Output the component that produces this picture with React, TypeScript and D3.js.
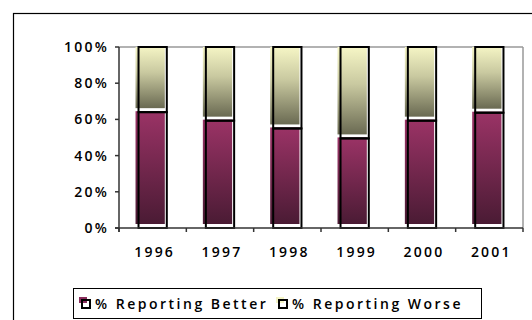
import React from 'react';
import * as d3 from 'd3';

const years = ['1996', '1997', '1998', '1999', '2000', '2001'];
const reportingBetter = [64, 59.3, 55, 49.5, 59.3, 63.7];
const reportingWorse = [36, 40.7, 45, 50.5, 40.7, 36.3];
const yTicks = [0, 20, 40, 60, 80, 100];
const seriesNames = ['% Reporting Better', '% Reporting Worse'];

const W = 532;
const H = 320;
const plot = { left: 119, right: 523, top: 47, bottom: 228 };
const FONT = "'Open Sans', 'DejaVu Sans', sans-serif";

// fill is drawn slightly up-left of its outline
const DX = -3;
const DY = -4;

export default function App() {
  const x = d3
    .scaleBand<string>()
    .domain(years)
    .range([plot.left, plot.right])
    .paddingInner(0.58)
    .paddingOuter(0.29);
  const y = d3.scaleLinear().domain([0, 100]).range([plot.bottom, plot.top]);
  const bw = x.bandwidth();

  const catEdges = d3.range(years.length + 1).map((i) => plot.left + (i * (plot.right - plot.left)) / years.length);

  return (
    <svg
      width={W}
      height={H}
      style={{ position: 'absolute', left: 0, top: 0, background: '#fff' }}
      fontFamily={FONT}
    >
      <defs>
        <linearGradient id="gBetter" x1="0" y1="0" x2="0" y2="1">
          <stop offset="0%" stopColor="#9b3366" />
          <stop offset="100%" stopColor="#4a1b34" />
        </linearGradient>
        <linearGradient id="gWorse" x1="0" y1="0" x2="0" y2="1">
          <stop offset="0%" stopColor="#fbfbca" />
          <stop offset="45%" stopColor="#c9c9a0" />
          <stop offset="100%" stopColor="#6a6a52" />
        </linearGradient>
        <clipPath id="plotClip">
          <rect x={plot.left - 10} y={plot.top} width={plot.right - plot.left + 10} height={plot.bottom - plot.top + 10} />
        </clipPath>
      </defs>

      {/* chart frame */}
      <rect x={13.5} y={13.5} width={W} height={H} fill="none" stroke="#000" strokeWidth={1.2} />

      {/* plot area border (top and right) */}
      <line x1={plot.left} x2={plot.right} y1={plot.top} y2={plot.top} stroke="#999" strokeWidth={1.5} />
      <line x1={plot.right} x2={plot.right} y1={plot.top} y2={plot.bottom} stroke="#999" strokeWidth={1.5} />

      {/* bars */}
      <g clipPath="url(#plotClip)">
        {years.map((yr, i) => {
          const x0 = x(yr)!;
          const yb = y(reportingBetter[i]);
          const yt = y(reportingBetter[i] + reportingWorse[i]);
          return (
            <g key={yr}>
              <rect x={x0 + DX} y={yt + DY} width={bw + 1} height={yb - yt} fill="url(#gWorse)" />
              <rect x={x0 + DX} y={yb + DY + 3} width={bw + 1} height={y(0) - yb - 3} fill="url(#gBetter)" />
            </g>
          );
        })}
      </g>
      {years.map((yr, i) => {
        const x0 = x(yr)!;
        const yb = y(reportingBetter[i]);
        const yt = y(reportingBetter[i] + reportingWorse[i]);
        return (
          <g key={yr + 'o'} fill="none" stroke="#000" strokeWidth={2}>
            <rect x={x0} y={yt} width={bw} height={yb - yt} />
            <rect x={x0} y={yb} width={bw} height={y(0) - yb} />
          </g>
        );
      })}

      {/* y axis */}
      <line x1={plot.left} x2={plot.left} y1={plot.top} y2={plot.bottom + 4} stroke="#333" strokeWidth={1.5} />
      {yTicks.map((t) => (
        <g key={t}>
          <line x1={plot.left - 4} x2={plot.left} y1={y(t)} y2={y(t)} stroke="#333" strokeWidth={1.5} />
          <text
            x={109}
            y={y(t)}
            dy="0.36em"
            textAnchor="end"
            fontSize={14}
            fontWeight={600}
            letterSpacing={2.2}
            fill="#000"
          >
            {`${t}%`}
          </text>
        </g>
      ))}

      {/* x axis */}
      <line x1={plot.left - 4} x2={plot.right} y1={plot.bottom} y2={plot.bottom} stroke="#333" strokeWidth={1.5} />
      {catEdges.map((e, i) => (
        <line key={i} x1={e} x2={e} y1={plot.bottom} y2={plot.bottom + 4} stroke="#333" strokeWidth={1.5} />
      ))}
      {years.map((yr) => (
        <text
          key={yr + 't'}
          x={x(yr)! + bw / 2 + 2}
          y={257}
          textAnchor="middle"
          fontSize={14}
          fontWeight={600}
          letterSpacing={2.2}
          fill="#000"
        >
          {yr}
        </text>
      ))}

      {/* legend */}
      <rect x={73.5} y={288.5} width={408} height={30} fill="#fff" stroke="#000" strokeWidth={1} />
      {seriesNames.map((name, i) => {
        const sx = i === 0 ? 82 : 279;
        return (
          <g key={name}>
            <rect x={sx - 3} y={297} width={8} height={6} fill={i === 0 ? '#8a2d5c' : '#f4f4c4'} />
            <rect x={sx} y={300} width={8} height={8} fill="none" stroke="#000" strokeWidth={2} />
            <text x={sx + 13} y={309} fontSize={14} fontWeight={600} letterSpacing={2.5} fill="#000">
              {name}
            </text>
          </g>
        );
      })}
    </svg>
  );
}
